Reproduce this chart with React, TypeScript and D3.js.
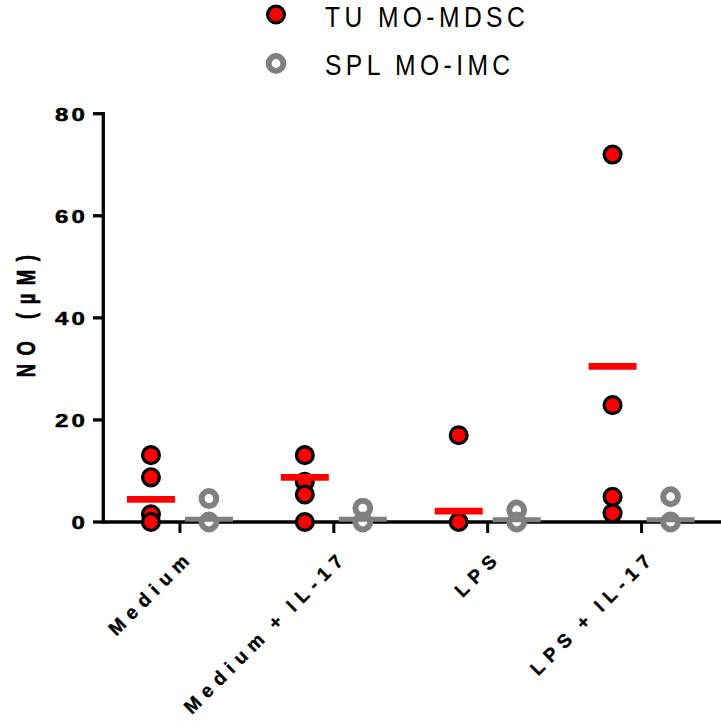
import React from 'react';
import * as d3 from 'd3';

const categories = ['Medium', 'Medium + IL-17', 'LPS', 'LPS + IL-17'];
const groups = ['TU MO-MDSC', 'SPL MO-IMC'];
const tuValues = [
  [13.1, 8.75, 1.5, 0],
  [13.1, 7.9, 5.4, 0],
  [17.0, 0],
  [72.0, 22.9, 4.95, 1.7],
];
const splValues = [
  [4.6, 0],
  [2.7, 0],
  [2.35, 0],
  [4.95, 0],
];
const tuMeans = [4.45, 8.75, 2.15, 30.5];
const splMeans = [0.55, 0.55, 0.45, 0.45];
const yTicks = [0, 20, 40, 60, 80];

const RED = '#ff0000';
const GREY = '#808080';
const FONT = 'Arial, "Liberation Sans", Helvetica, sans-serif';

const W = 721;
const H = 721;

export default function App() {
  const x = d3.scaleBand<string>().domain(categories).range([103, 718.5]);
  const sub = d3.scalePoint<string>().domain(groups).range([-29, 29]);
  const y = d3.scaleLinear().domain([0, 80]).range([522, 113.7]);
  const cx = (cat: string) => (x(cat) ?? 0) + x.bandwidth() / 2;

  const series = [
    { key: groups[0], values: tuValues, means: tuMeans },
    { key: groups[1], values: splValues, means: splMeans },
  ];

  const marker = (key: string, px: number, py: number, k: string) =>
    key === groups[0] ? (
      <circle key={k} cx={px} cy={py} r={8.4} fill={RED} stroke="#000" strokeWidth={3.3} />
    ) : (
      <circle key={k} cx={px} cy={py} r={7.4} fill="#fff" stroke={GREY} strokeWidth={6} />
    );

  return (
    <svg width={W} height={H} style={{ position: 'absolute', left: 0, top: 0, background: '#fff' }} fontFamily={FONT}>
      {/* legend */}
      {groups.map((g, i) => (
        <g key={g}>
          {marker(g, 276, 14.5 + i * 49, 'lg' + i)}
          <text
            transform={`translate(325,${26.5 + i * 48}) scale(0.88,1.04)`}
            fontSize={28}
            letterSpacing={5}
            fill="#000"
          >
            {g}
          </text>
        </g>
      ))}

      {/* y axis */}
      <line x1={103.3} x2={103.3} y1={y(80) - 1.6} y2={y(0) + 1.6} stroke="#000" strokeWidth={3.3} />
      {yTicks.map((t) => (
        <g key={t}>
          <line x1={93} x2={103.3} y1={y(t)} y2={y(t)} stroke="#000" strokeWidth={3.3} />
          <text
            transform={`translate(88,${y(t) + 6.8}) scale(1.3,1)`}
            textAnchor="end"
            fontSize={18.5}
            fontWeight="bold"
            letterSpacing={2.4}
            stroke="#000"
            strokeWidth={0.5}
          >
            {t}
          </text>
        </g>
      ))}
      <text
        transform="translate(35,312) scale(1.4,1) rotate(-90)"
        textAnchor="middle"
        fontSize={18.5}
        fontWeight="bold"
        letterSpacing={8.5}
        stroke="#000"
        strokeWidth={0.5}
      >
        NO (µM)
      </text>

      {/* x axis */}
      <line x1={103.3} x2={721} y1={y(0)} y2={y(0)} stroke="#000" strokeWidth={3.3} />
      {categories.map((c) => (
        <g key={c}>
          <line x1={cx(c)} x2={cx(c)} y1={y(0)} y2={533} stroke="#000" strokeWidth={3} />
          <text
            transform={`translate(${cx(c) + 15},558) rotate(-45)`}
            textAnchor="end"
            fontSize={19}
            fontWeight="bold"
            letterSpacing={6.6}
            wordSpacing={-4}
            stroke="#000"
            strokeWidth={0.4}
          >
            {c}
          </text>
        </g>
      ))}

      {/* points */}
      {series.map((s) =>
        categories.map((c, ci) =>
          s.values[ci].map((v, vi) => marker(s.key, cx(c) + (sub(s.key) ?? 0), y(v), `${s.key}-${ci}-${vi}`))
        )
      )}

      {/* mean lines */}
      {series.map((s) =>
        categories.map((c, ci) => (
          <line
            key={`m-${s.key}-${ci}`}
            x1={cx(c) + (sub(s.key) ?? 0) - 24}
            x2={cx(c) + (sub(s.key) ?? 0) + 24}
            y1={y(s.means[ci])}
            y2={y(s.means[ci])}
            stroke={s.key === groups[0] ? RED : GREY}
            strokeWidth={s.key === groups[0] ? 6.7 : 5}
          />
        ))
      )}
    </svg>
  );
}
